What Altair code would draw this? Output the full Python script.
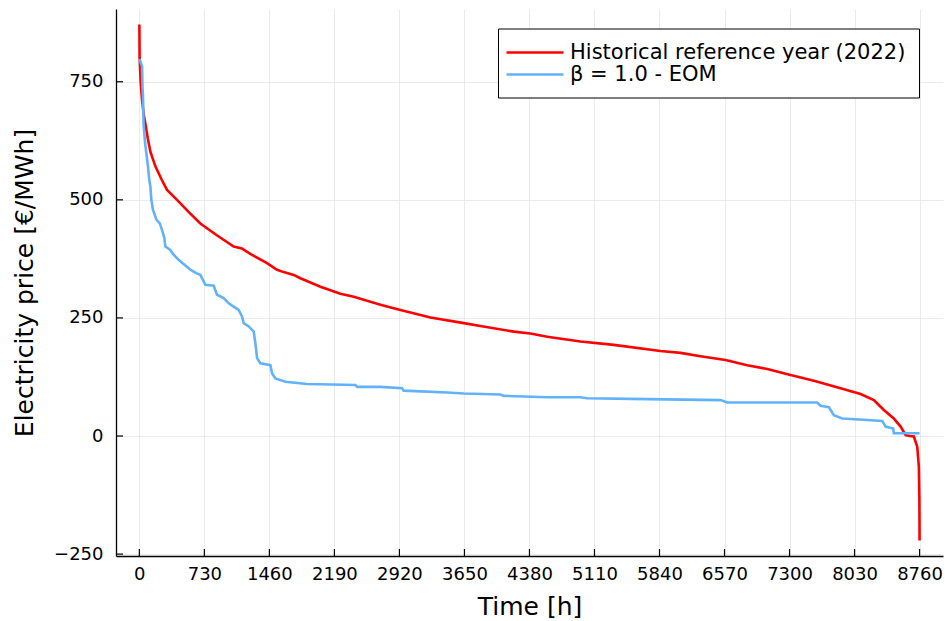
import altair as alt
import pandas as pd

# ---- data (hours of the year, price in EUR/MWh) ----
red_label = "Historical reference year (2022)"
blue_label = "β = 1.0 - EOM"

red_hours = [0, 1, 3, 15, 30, 50, 67, 95, 124, 180, 250, 311, 423, 550, 685, 870,
             1059, 1150, 1250, 1434, 1546, 1620, 1733, 1808, 2033, 2257, 2407, 2707,
             2931, 3268, 3643, 3830, 4204, 4391, 4579, 4953, 5327, 5851, 6076, 6300,
             6581, 6825, 7050, 7311, 7573, 7873, 8097, 8247, 8359, 8471, 8547, 8603,
             8650, 8696, 8734, 8752, 8758, 8760]
red_price = [871, 860, 801, 750, 712, 680, 662, 630, 602, 571, 543, 521, 500, 475, 450, 425,
             401, 397, 385, 366, 352, 347, 341, 334, 316, 301, 295, 278,
             267, 251, 239, 233, 221, 217, 210, 200, 193, 180, 176, 169,
             161, 150, 142, 129, 117, 101, 89, 76, 55, 37, 20, 2,
             0, -1, -23, -65, -136, -221]

blue_hours = [0, 30, 35, 41, 48, 67, 97, 110, 124, 135, 153, 191, 230, 255, 280, 292,
              348, 380, 441, 536, 573, 640, 685, 715, 741, 835, 872, 947, 1003, 1059,
              1115, 1153, 1172, 1228, 1284, 1303, 1322, 1359, 1471, 1490, 1527, 1640,
              1883, 2426, 2445, 2707, 2950, 2968, 3456, 3643, 4054, 4091, 4579, 4953,
              5028, 5702, 6525, 6600, 7611, 7648, 7742, 7798, 7892, 8172, 8341, 8378,
              8464, 8471, 8760]
blue_price = [798, 783, 740, 719, 659, 616, 571, 545, 528, 500, 479, 458, 450, 436, 420, 401,
              394, 385, 373, 358, 352, 345, 341, 330, 320, 318, 299, 292, 281, 274,
              267, 253, 239, 232, 221, 196, 165, 154, 150, 133, 122, 115,
              110, 108, 104, 104, 101, 96, 92, 90, 88, 85, 82, 82,
              80, 78, 76, 71, 71, 64, 61, 44, 37, 34, 32, 20,
              16, 6, 6]

x_ticks = [0, 730, 1460, 2190, 2920, 3650, 4380, 5110, 5840, 6570, 7300, 8030, 8760]
y_ticks = [-250, 0, 250, 500, 750]

series_labels = [red_label, blue_label]
series_colors = ["#ff0000", "#62b2fa"]

# ---- tables ----
df = pd.concat([
    pd.DataFrame({"hour": red_hours, "price": red_price, "series": red_label,
                  "idx": range(len(red_hours))}),
    pd.DataFrame({"hour": blue_hours, "price": blue_price, "series": blue_label,
                  "idx": range(len(blue_hours))}),
], ignore_index=True)
xt = pd.DataFrame({"hour": x_ticks})
yt = pd.DataFrame({"price": y_ticks})

FONT = "DejaVu Sans"
W, H = 827, 547

xs = alt.Scale(domain=[-262, 9023], nice=False, zero=False)
ys = alt.Scale(domain=[-254, 904], nice=False, zero=False)

x_axis = alt.Axis(values=x_ticks, title="Time [h]", format="d", labelPadding=9,
                  titlePadding=11, labelFlush=False, labelOverlap=False)
y_axis = alt.Axis(values=y_ticks, title="Electricity price [€/MWh]", format="d",
                  labelPadding=13, titlePadding=16)

lines = alt.Chart(df).mark_line(strokeWidth=2.6, clip=True).encode(
    x=alt.X("hour:Q", scale=xs, axis=x_axis),
    y=alt.Y("price:Q", scale=ys, axis=y_axis),
    color=alt.Color("series:N",
                    scale=alt.Scale(domain=series_labels, range=series_colors),
                    sort=series_labels,
                    legend=alt.Legend(orient="none", legendX=382, legendY=19.5,
                                      title=None, symbolType="M-3,0H3",
                                      symbolStrokeWidth=2.6, symbolSize=361,
                                      symbolOffset=13,
                                      labelFontSize=21, labelFont=FONT,
                                      labelColor="black", labelLimit=0,
                                      labelOffset=24, padding=13, rowPadding=1,
                                      strokeColor="black", fillColor="white",
                                      cornerRadius=0)),
    order="idx:Q",
)

xtick_marks = alt.Chart(xt).mark_rule(color="black", strokeWidth=1.2).encode(
    x=alt.X("hour:Q", scale=xs, axis=x_axis),
    y=alt.value(H), y2=alt.value(H - 7),
)
ytick_marks = alt.Chart(yt).mark_rule(color="black", strokeWidth=1.2).encode(
    y=alt.Y("price:Q", scale=ys, axis=y_axis),
    x=alt.value(0), x2=alt.value(7),
)

chart = alt.layer(lines, xtick_marks, ytick_marks).properties(
    width=W, height=H,
    background="white",
    autosize=alt.AutoSizeParams(type="none"),
    padding={"left": 116, "top": 9, "right": 2, "bottom": 65},
).configure_view(strokeWidth=0, stroke="transparent").configure_axis(
    domainColor="black", domainWidth=1.3, tickSize=0,
    gridColor="#e6e6e6", gridWidth=0.8,
    labelFont=FONT, labelFontSize=18, labelColor="black",
    titleFont=FONT, titleFontSize=25, titleFontWeight="normal", titleColor="black",
)

chart.save("out.html", embed_options={"renderer": "svg", "actions": False})
